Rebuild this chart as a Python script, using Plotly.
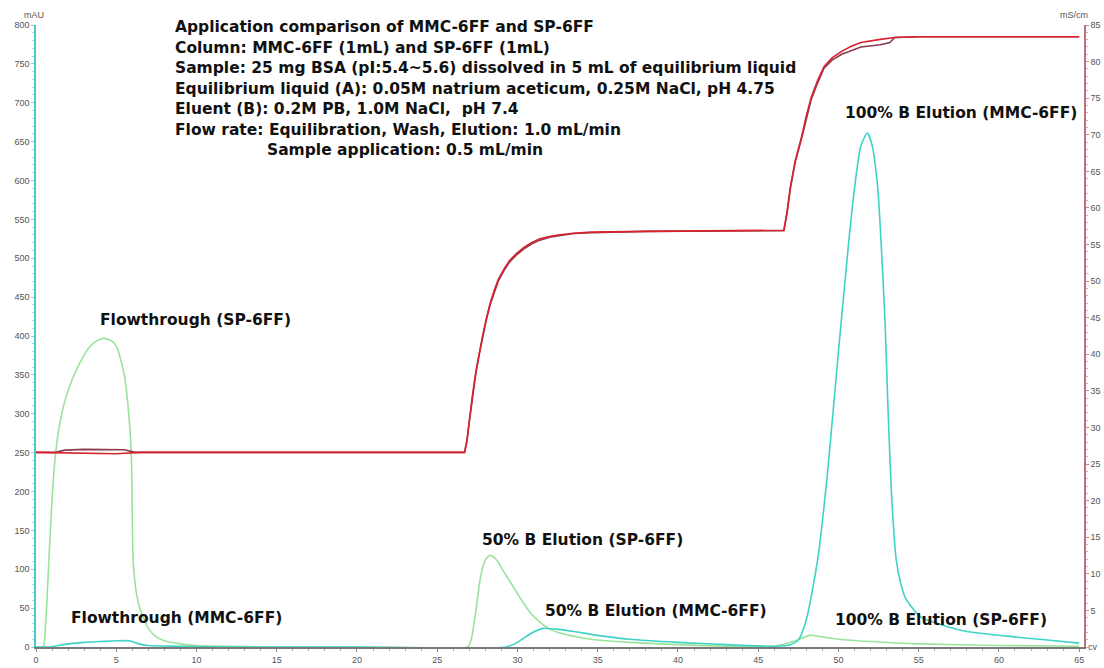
import plotly.graph_objects as go

# ---------------- data ----------------
# UV 280 nm, SP-6FF run (mAU)
sp_uv_x = [0, 0.45, 0.6, 0.8, 1.0, 1.2, 1.5, 2.0, 2.6, 3.3, 3.8, 4.2, 4.7, 5.05, 5.5, 5.8, 5.95, 6.05,
           6.25, 6.5, 7.0, 7.5, 8, 9, 10, 12, 14, 20, 26.9, 27.1, 27.4, 27.7, 28.0, 28.3, 28.7, 29.2,
           29.6, 30.2, 30.8, 31.4, 32.1, 33, 34, 35, 37, 40, 43, 46, 47.3, 48.2, 49, 50, 52, 55, 60, 65]
sp_uv_y = [0, 0, 30, 110, 190, 245, 290, 330, 360, 385, 394, 397, 394, 385, 350, 295, 240, 112,
           70, 48, 24, 13, 8, 4, 2, 1, 0, 0, 0, 8, 45, 90, 112, 118, 112, 95,
           82, 62, 44, 32, 22, 16, 12, 9, 6, 3, 1, 1, 8, 15, 13, 10, 7, 4, 2, 1]

# UV 280 nm, MMC-6FF run (mAU)
mmc_uv_x = [0, 0.8, 2, 3, 4, 5, 5.8, 6.4, 7, 9, 12, 20, 29.3, 30, 30.8, 31.6, 32.4, 33.5, 35, 37, 40, 43,
            46, 47, 47.5, 48, 48.7, 49.3, 50, 50.65, 51.0, 51.4, 51.8, 52.1, 52.45, 52.65, 52.9, 53.1,
            53.3, 53.6, 53.9, 54.2, 55.1, 56.8, 58, 61, 63, 65]
mmc_uv_y = [0, 0, 4, 6, 7, 8, 8, 4, 2, 1, 0, 0, 0, 6, 17, 24, 23, 20, 15, 10, 6, 3,
            1, 3, 9, 35, 112, 220, 380, 523, 590, 645, 661, 645, 590, 523, 420, 300,
            200, 112, 80, 62, 39, 26, 20, 13, 9, 5]

# Conductivity (mS/cm)
cond_a_x = [0, 3, 5, 6.5, 26.7, 26.85, 27.0, 27.2, 27.4, 27.6, 27.8, 28.05, 28.3, 28.55, 28.8, 29.15,
            29.5, 29.95, 30.4, 30.9, 31.4, 32.0, 32.5, 33.5, 34.6, 38,
            46.6, 46.8, 47.0, 47.3, 47.7, 48.0, 48.3, 48.7, 49.1, 49.6, 50.2, 50.8, 51.4, 52.5, 53.5, 55, 65]
cond_a_y = [26.6, 26.5, 26.4, 26.6, 26.6, 28.2, 31.0, 34.5, 37.5, 40.0, 42.2, 44.8, 47.0, 48.7, 50.2, 51.6,
            52.8, 53.8, 54.6, 55.3, 55.8, 56.1, 56.3, 56.55, 56.7, 56.8,
            56.95, 59.5, 62.8, 66.4, 69.7, 72.6, 75.1, 77.4, 79.3, 80.5, 81.4, 82.1, 82.6, 83.0, 83.3, 83.4, 83.4]

cond_b_x = [0, 1.2, 1.8, 3, 5.5, 6.2, 26.7, 26.85, 27.0, 27.2, 27.4, 27.6, 27.8, 28.05, 28.3, 28.55, 28.8,
            29.15, 29.5, 29.95, 30.4, 30.9, 31.4, 32.0, 32.5, 33.5, 34.6, 38,
            46.6, 46.8, 47.0, 47.3, 47.7, 48.0, 48.3, 48.7, 49.1, 49.6, 50.2, 51.4, 52.6, 53.2, 53.5, 55, 65]
cond_b_y = [26.6, 26.6, 26.9, 27.0, 26.95, 26.6, 26.6, 28.1, 30.8, 34.3, 37.3, 39.8, 42.0, 44.6, 46.8, 48.5, 50.0,
            51.4, 52.6, 53.6, 54.4, 55.1, 55.6, 56.0, 56.2, 56.5, 56.6, 56.8,
            56.9, 59.3, 62.6, 66.2, 69.5, 72.3, 74.8, 77.1, 79.1, 80.2, 81.0, 82.0, 82.3, 82.6, 83.3, 83.4, 83.4]

left_ticks = list(range(0, 801, 50))
right_ticks = list(range(5, 86, 5))
x_ticks = list(range(0, 66, 5))

info_lines = [
    "Application comparison of MMC-6FF and SP-6FF",
    "Column: MMC-6FF (1mL) and SP-6FF (1mL)",
    "Sample: 25 mg BSA (pI:5.4~5.6) dissolved in 5 mL of equilibrium liquid",
    "Equilibrium liquid (A): 0.05M natrium aceticum, 0.25M NaCl, pH 4.75",
    "Eluent (B): 0.2M PB, 1.0M NaCl,  pH 7.4",
    "Flow rate: Equilibration, Wash, Elution: 1.0 mL/min",
]
info_indent = "Sample application: 0.5 mL/min"

peak_labels = [
    ("Flowthrough (SP-6FF)", 3.86, 421),
    ("Flowthrough (MMC-6FF)", 2.06, 37),
    ("50% B Elution (SP-6FF)", 27.66, 138),
    ("50% B Elution (MMC-6FF)", 31.6, 46),
    ("100% B Elution (MMC-6FF)", 50.3, 687),
    ("100% B Elution (SP-6FF)", 49.66, 35),
]

# ---------------- figure ----------------
GREEN = "#9be39b"
CYAN = "#3fd3c6"
RED = "#d8222c"
DARK = "#8a3b4c"

fig = go.Figure()
fig.add_trace(go.Scatter(x=cond_b_x, y=cond_b_y, yaxis="y2", mode="lines",
                         line=dict(color=DARK, width=1.6), showlegend=False))
fig.add_trace(go.Scatter(x=cond_a_x, y=cond_a_y, yaxis="y2", mode="lines",
                         line=dict(color=RED, width=1.6), showlegend=False))
fig.add_trace(go.Scatter(x=sp_uv_x, y=sp_uv_y, mode="lines",
                         line=dict(color=GREEN, width=1.6, shape="spline", smoothing=0.6), showlegend=False))
fig.add_trace(go.Scatter(x=mmc_uv_x, y=mmc_uv_y, mode="lines",
                         line=dict(color=CYAN, width=1.6, shape="spline", smoothing=0.6), showlegend=False))

tickfont = dict(family="Liberation Sans, Arial, sans-serif", size=9, color="#555555")
labfont = dict(family="DejaVu Sans, sans-serif", size=15.5, color="#111111")

FW, FH = 1104, 668
L, R, T, B = 36, 20, 25, 21
W, H = FW - L - R, FH - T - B


def px_to_paper(xp, yp):
    return (xp - L) / W, (FH - B - yp) / H


annotations = []
for i, line in enumerate(info_lines):
    px, py = px_to_paper(173, 27 + i * 20.5)
    annotations.append(dict(x=px, y=py, xref="paper", yref="paper", text="<b>%s</b>" % line,
                            showarrow=False, xanchor="left", yanchor="middle", font=labfont))
px, py = px_to_paper(265, 27 + 6 * 20.5)
annotations.append(dict(x=px, y=py, xref="paper", yref="paper", text="<b>%s</b>" % info_indent,
                        showarrow=False, xanchor="left", yanchor="middle", font=labfont))

for text, xv, yv in peak_labels:
    annotations.append(dict(x=xv, y=yv, xref="x", yref="y", text="<b>%s</b>" % text, showarrow=False,
                            xanchor="left", yanchor="middle", font=labfont))

small = dict(family="Liberation Sans, Arial, sans-serif", size=9, color="#555555")
annotations.append(dict(x=0, y=1, xref="paper", yref="paper", text="mAU", showarrow=False,
                        xanchor="left", yanchor="bottom", xshift=-14, yshift=3, font=small))
annotations.append(dict(x=1, y=1, xref="paper", yref="paper", text="mS/cm", showarrow=False,
                        xanchor="right", yanchor="bottom", xshift=6, yshift=3, font=small))
annotations.append(dict(x=1, y=0, xref="paper", yref="paper", text="cv", showarrow=False,
                        xanchor="left", yanchor="middle", xshift=2, font=small))

fig.update_layout(
    width=FW, height=FH,
    margin=dict(l=L, r=R, t=T, b=B, autoexpand=False),
    paper_bgcolor="white", plot_bgcolor="white",
    xaxis=dict(range=[0, 65.3], tickvals=x_ticks, ticks="outside", ticklen=3, tickcolor="#888888",
               showgrid=False, zeroline=False, showline=True, linecolor="#7a7a7a", linewidth=2,
               automargin=False, tickfont=tickfont,
               minor=dict(dtick=1, ticks="outside", ticklen=2, tickcolor="#aaaaaa")),
    yaxis=dict(range=[0, 800], tickvals=left_ticks, ticks="outside", ticklen=3, tickcolor="#7fd6d6",
               showgrid=False, zeroline=False, showline=True, linecolor="#4cc8c8", linewidth=1.5,
               automargin=False, tickfont=tickfont,
               minor=dict(dtick=10, ticks="outside", ticklen=2, tickcolor="#9fe0e0")),
    yaxis2=dict(range=[0, 85], tickvals=right_ticks, overlaying="y", side="right", ticks="outside",
                ticklen=3, tickcolor="#c98a95", showgrid=False, zeroline=False, showline=True,
                linecolor="#c0707c", linewidth=1.5, automargin=False, tickfont=tickfont,
                minor=dict(dtick=1, ticks="outside", ticklen=2, tickcolor="#d9a9b0")),
    annotations=annotations,
    showlegend=False,
    hovermode=False,
)

fig.write_html(
    "out.html",
    config={"displayModeBar": False},
    post_script="document.body.style.margin='0';document.body.style.overflow='hidden';",
)
